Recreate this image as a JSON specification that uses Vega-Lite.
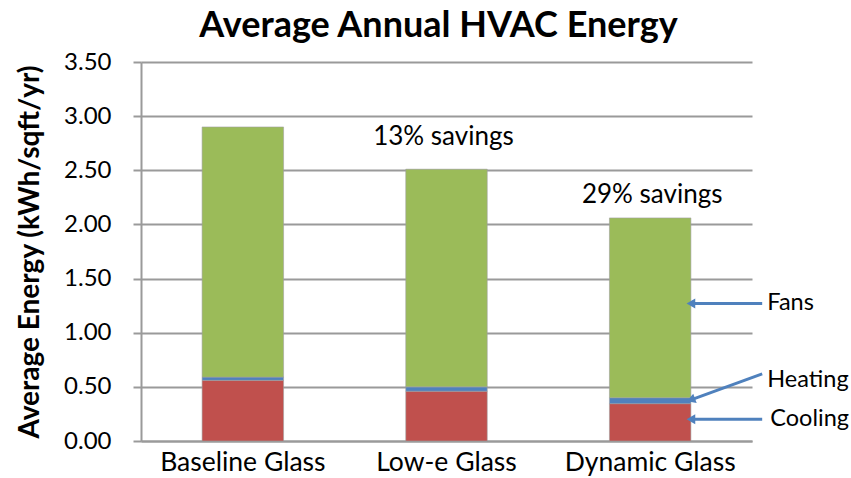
{
  "$schema": "https://vega.github.io/schema/vega-lite/v6.json",
  "width": 611,
  "height": 379,
  "autosize": {"type": "none"},
  "padding": {"left": 141, "top": 62, "right": 99, "bottom": 37},
  "background": "white",
  "config": {"font": "Lato", "view": {"stroke": null}},
  "title": {
    "text": "Average Annual HVAC Energy",
    "fontSize": 36,
    "fontWeight": "bold",
    "font": "Lato",
    "color": "#000000",
    "anchor": "middle",
    "frame": "group",
    "dx": -8,
    "offset": 5
  },
  "datasets": {
    "energy": [
      {"glass": "Baseline Glass", "component": "Cooling", "ord": 1, "value": 0.56},
      {"glass": "Baseline Glass", "component": "Heating", "ord": 2, "value": 0.03},
      {"glass": "Baseline Glass", "component": "Fans", "ord": 3, "value": 2.31},
      {"glass": "Low-e Glass", "component": "Cooling", "ord": 1, "value": 0.46},
      {"glass": "Low-e Glass", "component": "Heating", "ord": 2, "value": 0.04},
      {"glass": "Low-e Glass", "component": "Fans", "ord": 3, "value": 2.01},
      {"glass": "Dynamic Glass", "component": "Cooling", "ord": 1, "value": 0.345},
      {"glass": "Dynamic Glass", "component": "Heating", "ord": 2, "value": 0.055},
      {"glass": "Dynamic Glass", "component": "Fans", "ord": 3, "value": 1.66}
    ],
    "savings": [
      {"label": "13% savings", "x": 1.485, "y": 2.81},
      {"label": "29% savings", "x": 2.51, "y": 2.27}
    ],
    "callouts": [
      {"label": "Fans", "tx": 3.075, "ty": 1.27, "ax": 3.05, "ay": 1.27, "hx": 2.70, "hy": 1.27},
      {"label": "Heating", "tx": 3.075, "ty": 0.565, "ax": 3.05, "ay": 0.62, "hx": 2.70, "hy": 0.38},
      {"label": "Cooling", "tx": 3.09, "ty": 0.20, "ax": 3.05, "ay": 0.20, "hx": 2.70, "hy": 0.20}
    ]
  },
  "layer": [
    {
      "data": {"name": "energy"},
      "mark": {"type": "bar", "stroke": "#a0a0a0", "strokeWidth": 0.6},
      "encoding": {
        "x": {
          "field": "glass",
          "type": "nominal",
          "sort": ["Baseline Glass", "Low-e Glass", "Dynamic Glass"],
          "scale": {"paddingInner": 0.6, "paddingOuter": 0.3},
          "axis": {
            "title": null,
            "labelAngle": 0,
            "labelFontSize": 26.5,
            "labelColor": "#000000",
            "labelPadding": 8,
            "ticks": false,
            "domainColor": "#9a9a9a",
            "domainWidth": 2
          }
        },
        "y": {
          "aggregate": "sum",
          "field": "value",
          "type": "quantitative",
          "stack": "zero",
          "scale": {"domain": [0, 3.5], "nice": false},
          "axis": {
            "title": "Average Energy (kWh/sqft/yr)",
            "titleFontSize": 28,
            "titleFontWeight": "bold",
            "titleColor": "#000000",
            "titlePadding": 19,
            "values": [0, 0.5, 1, 1.5, 2, 2.5, 3, 3.5],
            "format": ".2f",
            "labelFontSize": 24,
            "labelColor": "#000000",
            "labelPadding": 22,
            "tickSize": 8,
            "tickColor": "#9a9a9a",
            "tickWidth": 2,
            "domainColor": "#9a9a9a",
            "domainWidth": 2,
            "grid": true,
            "gridColor": "#9a9a9a",
            "gridWidth": 2
          }
        },
        "color": {
          "field": "component",
          "type": "nominal",
          "scale": {"domain": ["Cooling", "Heating", "Fans"], "range": ["#C0504D", "#4F81BD", "#9BBB59"]},
          "legend": null
        },
        "order": {"field": "ord", "type": "quantitative"}
      }
    },
    {
      "layer": [
        {
          "data": {"name": "savings"},
          "mark": {"type": "text", "fontSize": 26, "color": "#000000", "align": "center", "baseline": "middle"},
          "encoding": {
            "x": {"field": "x", "type": "quantitative", "scale": {"domain": [0, 3], "nice": false, "zero": false}, "axis": null},
            "y": {"field": "y", "type": "quantitative"},
            "text": {"field": "label"}
          }
        },
        {
          "data": {"name": "callouts"},
          "mark": {"type": "rule", "color": "#4F81BD", "strokeWidth": 3},
          "encoding": {
            "x": {"field": "ax", "type": "quantitative", "scale": {"domain": [0, 3], "nice": false, "zero": false}, "axis": null},
            "y": {"field": "ay", "type": "quantitative"},
            "x2": {"field": "hx"},
            "y2": {"field": "hy"}
          }
        },
        {
          "data": {"name": "callouts"},
          "transform": [{"filter": "datum.label !== 'Heating'"}],
          "mark": {"type": "point", "shape": "triangle-up", "filled": true, "color": "#4F81BD", "opacity": 1, "size": 100, "angle": 270},
          "encoding": {
            "x": {"field": "hx", "type": "quantitative", "scale": {"domain": [0, 3], "nice": false, "zero": false}, "axis": null},
            "y": {"field": "hy", "type": "quantitative"}
          }
        },
        {
          "data": {"name": "callouts"},
          "transform": [{"filter": "datum.label === 'Heating'"}],
          "mark": {"type": "point", "shape": "triangle-up", "filled": true, "color": "#4F81BD", "opacity": 1, "size": 100, "angle": 250},
          "encoding": {
            "x": {"field": "hx", "type": "quantitative", "scale": {"domain": [0, 3], "nice": false, "zero": false}, "axis": null},
            "y": {"field": "hy", "type": "quantitative"}
          }
        },
        {
          "data": {"name": "callouts"},
          "mark": {"type": "text", "fontSize": 23.5, "color": "#000000", "align": "left", "baseline": "middle"},
          "encoding": {
            "x": {"field": "tx", "type": "quantitative", "scale": {"domain": [0, 3], "nice": false, "zero": false}, "axis": null},
            "y": {"field": "ty", "type": "quantitative"},
            "text": {"field": "label"}
          }
        }
      ]
    }
  ],
  "resolve": {"scale": {"x": "independent"}}
}
